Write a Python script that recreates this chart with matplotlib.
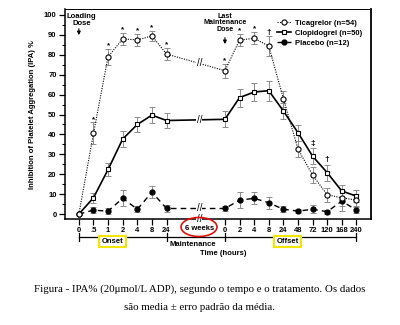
import matplotlib
matplotlib.use('Agg')
import matplotlib.pyplot as plt
from matplotlib.patches import Ellipse
from matplotlib.transforms import blended_transform_factory
import numpy as np

plt.rcParams['font.family'] = ['Liberation Sans', 'DejaVu Sans']

# --- data ---
onset_labels = ['0', '.5', '1', '2', '4', '8', '24']
offset_labels = ['0', '2', '4', '8', '24', '48', '72', '120', '168', '240']

tica = [0, 40.5, 79, 88, 87.5, 89.5, 80.4, 72, 87.4, 88.3, 84.4, 58, 32.7, 19.6, 9.7, 8.2, 7]
tica_err = [0, 5.5, 4, 3, 3, 2.5, 3, 3.5, 3, 3, 5, 4, 4, 4, 3.5, 4, 3]
clop = [0, 8.2, 22.4, 37.7, 45, 49.7, 47, 47.6, 58.5, 61.3, 62, 51.8, 40.9, 29.1, 20.8, 11.6, 9]
clop_err = [0, 2.5, 3.5, 4, 4, 4, 4, 4, 4.5, 4.5, 5, 4, 4, 4, 4, 3, 3]
plac = [0, 2, 1.4, 8, 2.4, 11, 2.8, 2.8, 7, 7.9, 5.7, 2.4, 1.5, 2.4, 1.2, 6.5, 2]
plac_err = [0, 1.5, 1.5, 4, 1.5, 3, 2, 1.5, 4, 3, 3, 1.5, 1, 2, 1, 5, 1.5]

# significance marks: (point index, symbol)
tica_marks = [(1, '*'), (2, '*'), (3, '*'), (4, '*'), (5, '*'), (6, '*'),
              (7, '*'), (8, '*'), (9, '*'), (10, '\u2020')]
clop_marks = [(13, '\u2021'), (14, '\u2020')]

# x positions: onset points, a gap for the 6 weeks break, then offset points
x = np.array(list(range(len(onset_labels))) +
             list(range(len(onset_labels) + 3, len(onset_labels) + 3 + len(offset_labels))))
x_break = 8.25

fig = plt.figure(figsize=(4.0, 3.25), dpi=100)
ax = fig.add_axes([0.1625, 0.326, 0.765, 0.645])

err_kw = dict(fmt='none', ecolor='#8c8c8c', elinewidth=0.7, capsize=2.3, capthick=0.7, zorder=2)
ax.errorbar(x, tica, yerr=tica_err, **err_kw)
ax.errorbar(x, clop, yerr=clop_err, **err_kw)
ax.errorbar(x, plac, yerr=plac_err, **err_kw)

ax.plot(x, plac, color='black', lw=1.0, ls=(0, (4, 3)), marker='o', ms=3.5,
        mfc='black', mec='black', zorder=3, label='Placebo (n=12)')
ax.plot(x, clop, color='black', lw=1.2, ls='-', marker='s', ms=3.3,
        mfc='white', mec='black', mew=0.8, zorder=4, label='Clopidogrel (n=50)')
ax.plot(x, tica, color='black', lw=0.8, ls=(0, (1, 1.2)), marker='o', ms=3.7,
        mfc='white', mec='black', mew=0.8, zorder=5, label='Ticagrelor (n=54)')

# break marks on each line
for ys in (tica, clop, plac):
    yb = np.interp(x_break, [x[6], x[7]], [ys[6], ys[7]])
    ax.text(x_break, yb, '//', ha='center', va='center', fontsize=7,
            bbox=dict(fc='white', ec='none', pad=0.2), zorder=6)

for i, s in tica_marks:
    ax.text(x[i], tica[i] + tica_err[i] + 1.6, s, ha='center', va='center',
            fontsize=5.8, fontweight='bold')
for i, s in clop_marks:
    ax.text(x[i], clop[i] + clop_err[i] + 2.5, s, ha='center', va='center',
            fontsize=6, fontweight='bold')

# dose annotations
ax.text(0.2, 101.0, 'Loading\nDose', ha='center', va='top', fontsize=5.5,
        fontweight='bold', linespacing=0.9)
ax.annotate('', xy=(0, 88.5), xytext=(0, 94.5),
            arrowprops=dict(arrowstyle='-|>', color='black', lw=0.8, mutation_scale=5))
for line_txt, yv in (('Last', 99.0), ('Maintenance', 96.0), ('Dose', 92.8)):
    ax.text(x[7], yv, line_txt, ha='center', va='center', fontsize=5.1,
            fontweight='bold')
ax.annotate('', xy=(x[7], 84), xytext=(x[7], 90),
            arrowprops=dict(arrowstyle='-|>', color='black', lw=0.8, mutation_scale=5))

ax.set_xlim(-0.95, 20.0)
ax.set_ylim(-2.5, 102.8)
ax.set_yticks(np.arange(0, 101, 10))
ax.set_yticks(np.arange(0, 101, 5), minor=True)
ax.set_xticks(x)
ax.set_xticklabels(onset_labels + offset_labels)
ax.tick_params(axis='both', which='major', length=4, width=0.9, labelsize=5.5, pad=2)
ax.tick_params(axis='y', which='minor', length=2.5, width=0.8)
for lbl in ax.get_xticklabels() + ax.get_yticklabels():
    lbl.set_fontweight('bold')
for side in ('left', 'bottom'):
    ax.spines[side].set_linewidth(1.1)
ax.spines['top'].set_linewidth(0.7)
ax.spines['right'].set_linewidth(1.3)

ax.set_ylabel('Inhibition of Platelet Aggregation (IPA) %', fontsize=5.5,
              fontweight='bold', labelpad=6)

handles, labels = ax.get_legend_handles_labels()
ax.legend(handles[::-1], labels[::-1], loc='upper right', bbox_to_anchor=(0.995, 0.985),
          frameon=False, handlelength=1.8, labelspacing=0.35, handletextpad=0.6,
          prop=dict(weight='bold', size=5.5))

# x axis break label and marks
tb = blended_transform_factory(ax.transData, ax.transAxes)
ax.text(x_break, 0.0, '//', transform=tb, ha='center', va='center', fontsize=7,
        bbox=dict(fc='white', ec='none', pad=0.2), clip_on=False, zorder=7)
ax.text(x_break, -0.045, '6 weeks', transform=tb, ha='center', va='center',
        fontsize=5.5, fontweight='bold', clip_on=False)
fig.patches.append(Ellipse((199 / 400, 1 - 227 / 325), 36 / 400, 19 / 325,
                           transform=fig.transFigure, fill=False, ec='#e01010', lw=1.2))

# phase line under the axis
yl = -0.086
ax.plot([x[0], x[-1]], [yl, yl], transform=tb, color='black', lw=0.9, clip_on=False)
for xv in (x[0], x[6], x[7], x[-1]):
    ax.plot([xv, xv], [yl - 0.018, yl + 0.018], transform=tb, color='black', lw=0.9,
            clip_on=False)
box_kw = dict(boxstyle='square,pad=0.3', fc='white', ec='#f2e600', lw=1.5)
ax.text(2.3, yl - 0.005, 'Onset', transform=tb, ha='center', va='top', fontsize=5.5,
        fontweight='bold', bbox=box_kw, clip_on=False)
ax.text(14.3, yl - 0.005, 'Offset', transform=tb, ha='center', va='top', fontsize=5.5,
        fontweight='bold', bbox=box_kw, clip_on=False)
ax.text(7.8, yl - 0.02, 'Maintenance', transform=tb, ha='center', va='top',
        fontsize=5.5, fontweight='bold', clip_on=False)
ax.text(9.9, yl - 0.062, 'Time (hours)', transform=tb, ha='center', va='top',
        fontsize=5.5, fontweight='bold', clip_on=False)

# caption
fig.text(0.5, 1 - 289 / 325, 'Figura - IPA% (20\u03bcmol/L ADP), segundo o tempo e o tratamento. Os dados',
         ha='center', va='center', fontsize=7.8, family='Liberation Serif')
fig.text(0.5, 1 - 307 / 325, 's\u00e3o media \u00b1 erro padr\u00e3o da m\u00e9dia.',
         ha='center', va='center', fontsize=7.8, family='Liberation Serif')

fig.savefig('out.png', dpi=100)
